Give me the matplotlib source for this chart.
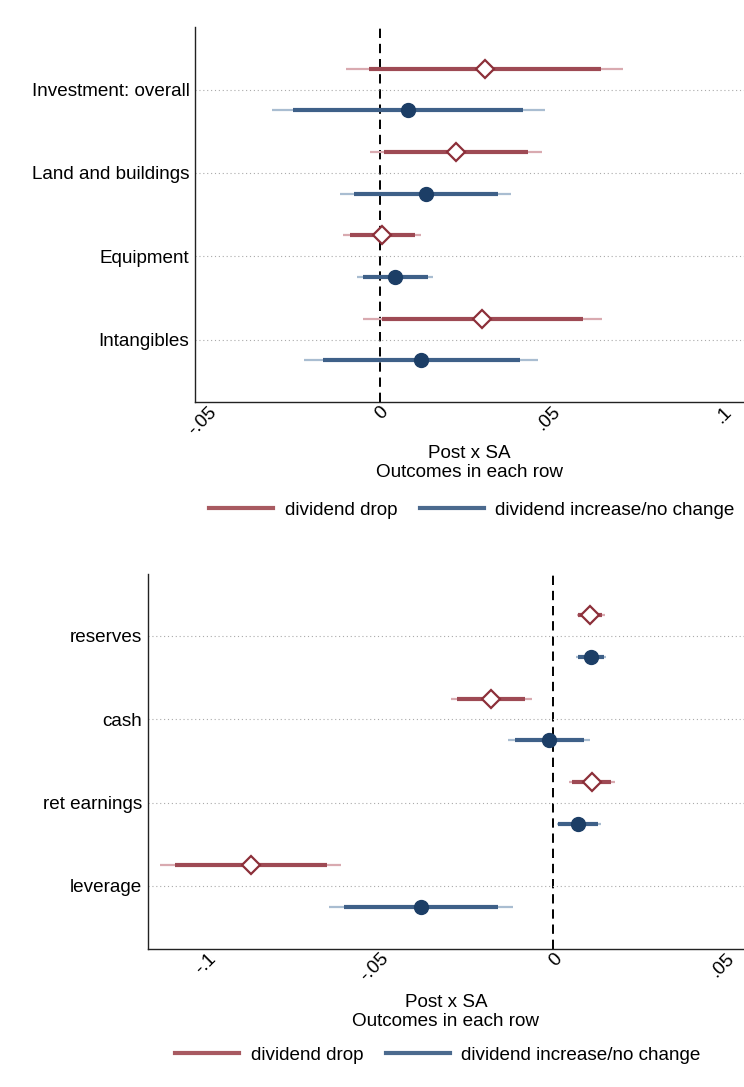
import numpy as np
import matplotlib.pyplot as plt
from matplotlib.lines import Line2D

plt.rcParams['font.family'] = ['Liberation Sans', 'DejaVu Sans']

# Panel 1: investment outcomes
inv_labels = ['Investment: overall', 'Land and buildings', 'Equipment', 'Intangibles']
inv_drop_b     = [0.0305, 0.0222, 0.0006, 0.0298]
inv_drop_lo90  = [-0.0033, 0.0012, -0.0087, 0.0006]
inv_drop_hi90  = [0.0644, 0.0431, 0.0103, 0.0592]
inv_drop_lo95  = [-0.0099, -0.0028, -0.0107, -0.0049]
inv_drop_hi95  = [0.0709, 0.0472, 0.0121, 0.0647]
inv_inc_b      = [0.0083, 0.0134, 0.0045, 0.0120]
inv_inc_lo90   = [-0.0252, -0.0076, -0.0048, -0.0165]
inv_inc_hi90   = [0.0416, 0.0343, 0.0140, 0.0407]
inv_inc_lo95   = [-0.0316, -0.0116, -0.0067, -0.0222]
inv_inc_hi95   = [0.0481, 0.0383, 0.0156, 0.0462]

# Panel 2: balance sheet outcomes
bs_labels = ['reserves', 'cash', 'ret earnings', 'leverage']
bs_drop_b     = [0.0107, -0.0180, 0.0112, -0.0873]
bs_drop_lo90  = [0.0073, -0.0277, 0.0055, -0.1093]
bs_drop_hi90  = [0.0142, -0.0082, 0.0168, -0.0653]
bs_drop_lo95  = [0.0068, -0.0295, 0.0047, -0.1135]
bs_drop_hi95  = [0.0150, -0.0062, 0.0180, -0.0612]
bs_inc_b      = [0.0109, -0.0011, 0.0071, -0.0383]
bs_inc_lo90   = [0.0073, -0.0111, 0.0014, -0.0605]
bs_inc_hi90   = [0.0146, 0.0089, 0.0131, -0.0160]
bs_inc_lo95   = [0.0066, -0.0130, 0.0011, -0.0648]
bs_inc_hi95   = [0.0154, 0.0107, 0.0140, -0.0117]

red_pt, red_thick, red_thin = '#8c2f39', '#9e4a54', '#d9aab0'
blu_pt, blu_thick, blu_thin = '#1c3e66', '#3e6088', '#a9bdd1'
W, H = 744, 1087
FS = 13.6

fig = plt.figure(figsize=(W / 100, H / 100), dpi=100)


def coefpanel(rect, labels, drop, inc, xlim, ticks, ticklabels, lab_y, leg_x, leg_y):
    ax = fig.add_axes(rect)
    pos = np.arange(1, len(labels) + 1)
    for vals, off, cthin, cthick, cpt, mk in [
            (drop, -0.25, red_thin, red_thick, red_pt, 'D'),
            (inc, 0.25, blu_thin, blu_thick, blu_pt, 'o')]:
        b, lo90, hi90, lo95, hi95 = vals
        y = pos + off
        ax.hlines(y, lo95, hi95, color=cthin, lw=1.6, zorder=2)
        ax.hlines(y, lo90, hi90, color=cthick, lw=3.0, zorder=3)
        if mk == 'D':
            ax.plot(b, y, 'D', ms=9, mfc='white', mec=cpt, mew=1.6, ls='none', zorder=4)
        else:
            ax.plot(b, y, 'o', ms=10, color=cpt, ls='none', zorder=4)
    ax.axvline(0, color='black', lw=1.4, ls=(0, (4.8, 3)), zorder=1)
    ax.set_xlim(*xlim)
    ax.set_ylim(len(labels) + 0.75, 0.25)
    ax.set_yticks(pos)
    ax.set_yticklabels(labels, fontsize=FS)
    ax.set_xticks(ticks)
    ax.set_xticklabels(ticklabels, fontsize=FS, rotation=45, ha='right',
                       rotation_mode='anchor')
    ax.tick_params(axis='both', length=0)
    ax.tick_params(axis='y', pad=4)
    ax.tick_params(axis='x', pad=1)
    ax.grid(axis='y', ls=(0, (1, 2.5)), color='#aaaaaa', lw=0.8)
    ax.grid(axis='x', visible=False)
    for s in ['top', 'right']:
        ax.spines[s].set_visible(False)
    for s in ['left', 'bottom']:
        ax.spines[s].set_color('#222222')
        ax.spines[s].set_linewidth(1.0)
    cx = rect[0] + rect[2] / 2
    fig.text(cx, lab_y, 'Post x SA\nOutcomes in each row', ha='center',
             va='center', fontsize=FS, linespacing=1.1)
    handles = [Line2D([], [], color='#a85a61', lw=3),
               Line2D([], [], color='#4b6a8e', lw=3)]
    fig.legend(handles, ['dividend drop', 'dividend increase/no change'],
               loc='center', bbox_to_anchor=(leg_x, leg_y), ncol=2, frameon=False,
               fontsize=FS, handlelength=3.4, handletextpad=0.6,
               columnspacing=1.2)
    return ax


coefpanel([195 / W, 1 - 402 / H, 549 / W, 375 / H], inv_labels,
          (inv_drop_b, inv_drop_lo90, inv_drop_hi90, inv_drop_lo95, inv_drop_hi95),
          (inv_inc_b, inv_inc_lo90, inv_inc_hi90, inv_inc_lo95, inv_inc_hi95),
          (-0.0539, 0.1061), [-0.05, 0, 0.05, 0.1], ['-.05', '0', '.05', '.1'],
          1 - 463 / H, 472 / W, 1 - 510 / H)

coefpanel([148 / W, 1 - 948.5 / H, 596 / W, 375 / H], bs_labels,
          (bs_drop_b, bs_drop_lo90, bs_drop_hi90, bs_drop_lo95, bs_drop_hi95),
          (bs_inc_b, bs_inc_lo90, bs_inc_hi90, bs_inc_lo95, bs_inc_hi95),
          (-0.1171, 0.0552), [-0.1, -0.05, 0, 0.05], ['-.1', '-.05', '0', '.05'],
          1 - 1012 / H, 438 / W, 1 - 1055 / H)

fig.savefig('out.png', dpi=100)
